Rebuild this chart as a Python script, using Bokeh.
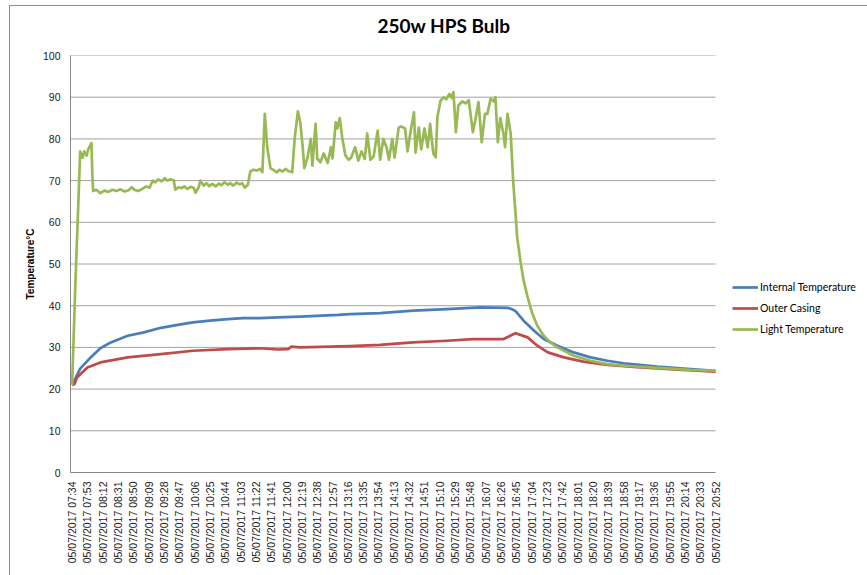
import math
from bokeh.plotting import figure
from bokeh.models import Range1d, FixedTicker, Legend, LegendItem, Title
from bokeh.embed import file_html
from bokeh.resources import INLINE

# ---- data (minutes after 05/07/2017 07:34) ----
tick_times = ["07:34", "07:53", "08:12", "08:31", "08:50", "09:09", "09:28", "09:47",
              "10:06", "10:25", "10:44", "11:03", "11:22", "11:41", "12:00", "12:19",
              "12:38", "12:57", "13:16", "13:35", "13:54", "14:13", "14:32", "14:51",
              "15:10", "15:29", "15:48", "16:07", "16:26", "16:45", "17:04", "17:23",
              "17:42", "18:01", "18:20", "18:39", "18:58", "19:17", "19:36", "19:55",
              "20:14", "20:33", "20:52"]
tick_labels = ["05/07/2017 " + t for t in tick_times]
tick_minutes = [0, 19, 38, 57, 76, 95, 114, 133, 152, 171, 190, 209, 228, 247, 266,
                285, 304, 323, 342, 361, 380, 399, 418, 437, 456, 475, 494, 513, 532,
                551, 570, 589, 608, 627, 646, 665, 684, 703, 722, 741, 760, 779, 798]

light_min = [0, 4, 8, 10, 13, 15, 18, 20, 24, 25, 26, 30, 35, 40, 45, 50, 55, 60, 65, 70,
             74, 77, 82, 87, 92, 96, 100, 103, 107, 111, 115, 118, 122, 126, 128, 132,
             136, 139, 143, 147, 151, 153, 157, 159, 163, 167, 170, 174, 178, 182, 185,
             189, 193, 196, 200, 204, 208, 211, 214, 218, 221, 225, 229, 233, 236, 239,
             242, 246, 250, 254, 257, 261, 265, 268, 273, 276, 280, 283, 286, 288, 292,
             296, 298, 302, 304, 308, 312, 317, 321, 323, 327, 329, 332, 335, 339, 343,
             346, 351, 355, 359, 363, 366, 370, 374, 379, 382, 386, 390, 393, 397, 400,
             405, 408, 413, 416, 420, 424, 426, 430, 433, 437, 441, 444, 448, 451, 453,
             457, 461, 464, 468, 471, 473, 476, 479, 484, 488, 492, 497, 500, 504, 508,
             512, 515, 519, 523, 525, 528, 531, 535, 537, 540, 544, 547, 550, 552, 556,
             560, 565, 571, 577, 585, 593, 602, 622, 643, 664, 684, 726, 767, 798]
light_temp = [21.0, 45.0, 66.0, 77.0, 75.5, 77.0, 76.0, 77.5, 79.0, 72.0, 67.5, 67.8, 67.0,
              67.6, 67.3, 67.8, 67.5, 67.9, 67.4, 67.7, 68.4, 67.8, 67.5, 68.0, 68.6, 68.3,
              70.0, 69.6, 70.3, 69.8, 70.6, 70.0, 70.3, 70.1, 67.8, 68.4, 68.2, 68.6, 68.0,
              68.5, 68.2, 67.1, 68.4, 70.0, 68.8, 69.4, 68.7, 69.2, 68.6, 69.3, 68.9, 69.6,
              69.0, 69.4, 68.8, 69.5, 69.1, 69.4, 68.3, 69.0, 72.2, 72.6, 72.4, 72.8, 72.0,
              86.0, 78.0, 73.0, 72.5, 72.0, 72.6, 72.2, 72.8, 72.3, 72.0, 80.0, 86.6, 84.0,
              78.0, 73.0, 75.5, 80.0, 73.6, 83.6, 75.3, 74.4, 76.5, 74.2, 78.0, 75.3, 84.0,
              82.5, 85.0, 80.3, 76.0, 75.0, 75.5, 78.0, 74.8, 77.0, 75.2, 81.3, 75.0, 75.8,
              82.0, 75.0, 80.0, 78.0, 75.0, 80.0, 75.5, 82.7, 83.0, 82.5, 77.0, 82.0, 86.4,
              76.7, 82.7, 77.5, 82.5, 78.0, 83.6, 76.5, 75.6, 85.2, 89.2, 90.0, 89.5, 90.8,
              89.8, 91.2, 81.6, 88.0, 89.0, 88.5, 89.3, 81.6, 84.4, 88.8, 79.2, 86.0, 86.0,
              89.6, 89.0, 90.0, 79.2, 85.0, 81.2, 78.0, 86.0, 81.2, 70.0, 62.0, 56.4, 50.8,
              46.0, 42.0, 38.0, 35.2, 32.8, 31.2, 30.0, 28.0, 26.8, 26.0, 25.6, 25.1, 24.6,
              24.4]

internal_min = [0, 4, 10, 23, 35, 48, 69, 89, 110, 131, 150, 171, 193, 212, 233, 255, 283,
                330, 345, 382, 423, 465, 506, 540, 545, 550, 560, 573, 585, 602, 622, 643,
                664, 684, 726, 767, 798]
internal_temp = [21.0, 22.5, 24.9, 27.6, 29.8, 31.2, 32.8, 33.6, 34.7, 35.4, 36.0, 36.4,
                 36.8, 37.0, 37.0, 37.2, 37.4, 37.8, 38.0, 38.2, 38.8, 39.2, 39.6, 39.5,
                 39.2, 38.7, 36.4, 34.0, 32.0, 30.4, 28.8, 27.6, 26.8, 26.2, 25.4, 24.8,
                 24.4]

outer_min = [0, 3, 6, 19, 35, 69, 110, 150, 193, 233, 255, 268, 272, 283, 345, 382, 423,
             465, 497, 535, 550, 565, 577, 590, 610, 634, 664, 705, 746, 798]
outer_temp = [21.0, 21.2, 22.8, 25.2, 26.4, 27.6, 28.4, 29.2, 29.6, 29.8, 29.5, 29.6, 30.2,
              30.0, 30.3, 30.6, 31.2, 31.6, 32.0, 32.0, 33.4, 32.4, 30.4, 28.8, 27.6, 26.6,
              25.8, 25.2, 24.7, 24.2]

y_ticks = [0, 10, 20, 30, 40, 50, 60, 70, 80, 90, 100]

# plotted time span; the frame continues to the right to hold the legend
x_start = tick_minutes[0] - 2
x_end = tick_minutes[-1]
x_view_end = x_end + 188.5

# ---- figure ----
p = figure(width=867, height=575, output_backend="svg", toolbar_location=None,
           x_range=Range1d(x_start, x_view_end), y_range=Range1d(0, 100),
           min_border_left=70, min_border_right=0, min_border_top=55,
           min_border_bottom=103)

# empty built-in title; a spacer title sits next to the frame, the real title above it
p.title.text = ""
spacer = Title(text=" ", text_font_size="1px")
try:
    spacer.standoff = 11
except AttributeError:
    pass
p.add_layout(spacer, "above")
main_title = Title(text="250w HPS Bulb", align="left", offset=307, text_font="Lato",
                   text_font_style="bold", text_font_size="19px", text_color="#000000")
p.add_layout(main_title, "above")

frame_css = ("linear-gradient(#8e8e8e, #8e8e8e) 9px 5px / 1px 570px no-repeat, "
             "linear-gradient(#8e8e8e, #8e8e8e) 9px 5px / 858px 1px no-repeat, #ffffff")
p.styles = {"background": frame_css}

p.outline_line_color = None
p.background_fill_color = None
p.border_fill_alpha = 0

p.xgrid.grid_line_color = None
p.ygrid.grid_line_color = None
grid_levels = y_ticks[1:]
p.segment(x0=[x_start] * len(grid_levels), x1=[x_end] * len(grid_levels),
          y0=grid_levels, y1=grid_levels, line_color="#a2a2a2", line_width=1)

p.xaxis.ticker = FixedTicker(ticks=tick_minutes)
p.xaxis.major_label_overrides = {m: lab for m, lab in zip(tick_minutes, tick_labels)}
p.xaxis.major_label_orientation = math.pi / 2
p.xaxis.bounds = (x_start, x_end)
p.yaxis.ticker = FixedTicker(ticks=y_ticks)

for ax in (p.xaxis, p.yaxis):
    ax.axis_line_color = "#868686"
    ax.major_tick_line_color = None
    ax.minor_tick_line_color = None
    ax.major_tick_out = 0
    ax.major_tick_in = 0
    ax.minor_tick_out = 0
    ax.minor_tick_in = 0
    ax.major_label_text_font = "Liberation Sans"
    ax.major_label_text_font_size = "10.5px"
    ax.major_label_text_color = "#1a1a1a"
p.xaxis.major_label_standoff = 9
p.yaxis.major_label_standoff = 10

p.yaxis.axis_label = "Temperature°C"
p.yaxis.axis_label_text_font = "Liberation Sans"
p.yaxis.axis_label_text_font_style = "bold"
p.yaxis.axis_label_text_font_size = "10px"
p.yaxis.axis_label_text_color = "#000000"
p.yaxis.axis_label_standoff = 4

r_int = p.line(internal_min, internal_temp, line_color="#4a7ebb", line_width=2.7,
               line_join="round")
r_out = p.line(outer_min, outer_temp, line_color="#be4b48", line_width=2.7,
               line_join="round")
r_light = p.line(light_min, light_temp, line_color="#98b954", line_width=2.7,
                 line_join="round")

legend = Legend(items=[LegendItem(label="Internal Temperature", renderers=[r_int]),
                       LegendItem(label="Outer Casing", renderers=[r_out]),
                       LegendItem(label="Light Temperature", renderers=[r_light])],
                location=(662, 133))
legend.border_line_color = None
legend.background_fill_alpha = 0
legend.padding = 0
legend.margin = 0
legend.spacing = 1
legend.glyph_width = 26
legend.glyph_height = 20
legend.label_height = 20
legend.label_standoff = 2
legend.label_text_font = "Lato"
legend.label_text_font_size = "10.5px"
legend.label_text_color = "#000000"
p.add_layout(legend)

open("out.html", "w").write(file_html(p, INLINE))
